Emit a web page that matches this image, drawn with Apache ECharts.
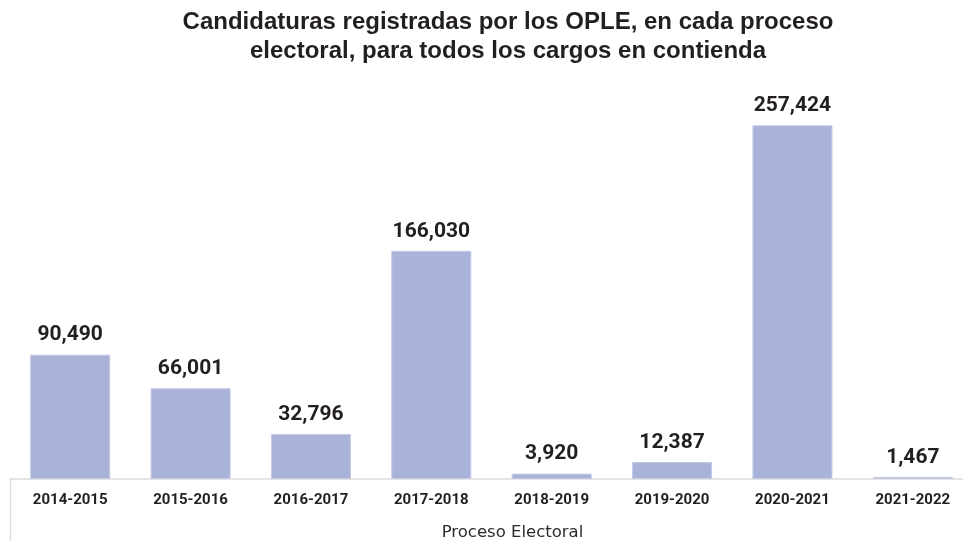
<!DOCTYPE html>
<html>
<head>
<meta charset="utf-8">
<script src="https://cdn.jsdelivr.net/npm/echarts@6/dist/echarts.min.js"></script>
<style>
  html, body { margin: 0; padding: 0; background: #fff; }
  #chart { width: 963px; height: 541px; }
</style>
</head>
<body>
<div id="chart"></div>
<script>
const procesos = ['2014-2015', '2015-2016', '2016-2017', '2017-2018', '2018-2019', '2019-2020', '2020-2021', '2021-2022'];
const candidaturas = [90490, 66001, 32796, 166030, 3920, 12387, 257424, 1467];

const chart = echarts.init(document.getElementById('chart'));
const option = {
  animation: false,
  title: {
    text: 'Candidaturas registradas por los OPLE, en cada proceso\nelectoral, para todos los cargos en contienda',
    left: 503,
    textAlign: 'center',
    top: 3,
    textStyle: {
      fontFamily: 'Liberation Sans',
      fontWeight: 'bold',
      fontSize: 24,
      lineHeight: 29,
      color: '#231f20'
    }
  },
  grid: {
    left: 10,
    right: -10,
    top: 66.8,
    bottom: 62,
    containLabel: false,
    outerBoundsMode: 'none'
  },
  xAxis: {
    type: 'category',
    data: procesos,
    name: 'Proceso Electoral',
    nameLocation: 'middle',
    nameGap: 45,
    nameTextStyle: {
      fontFamily: 'DejaVu Sans',
      fontSize: 16.5,
      color: '#2b2b2b',
      padding: [0, 0, 0, 42]
    },
    axisLine: { lineStyle: { color: '#dcdcdc', width: 1.5 } },
    axisTick: { show: false },
    axisLabel: {
      margin: 14,
      fontFamily: 'Roboto',
      fontWeight: 'bold',
      fontSize: 15,
      color: '#231f20'
    }
  },
  yAxis: {
    type: 'value',
    min: 0,
    max: 300000,
    show: false,
    splitLine: { show: false }
  },
  series: [{
    type: 'bar',
    data: candidaturas,
    barWidth: 80,
    itemStyle: {
      color: '#a9b2d9',
      borderColor: '#c4cae6',
      borderWidth: 1
    },
    label: {
      show: true,
      position: 'top',
      distance: 9,
      fontFamily: 'Roboto',
      fontWeight: 'bold',
      fontSize: 21,
      color: '#231f20',
      formatter: p => p.value.toLocaleString('en-US')
    }
  }],
  graphic: [{
    type: 'line',
    shape: { x1: 10.5, y1: 479, x2: 10.5, y2: 541 },
    style: { stroke: '#dcdcdc', lineWidth: 1.5 }
  }]
};
chart.setOption(option);
</script>
</body>
</html>
